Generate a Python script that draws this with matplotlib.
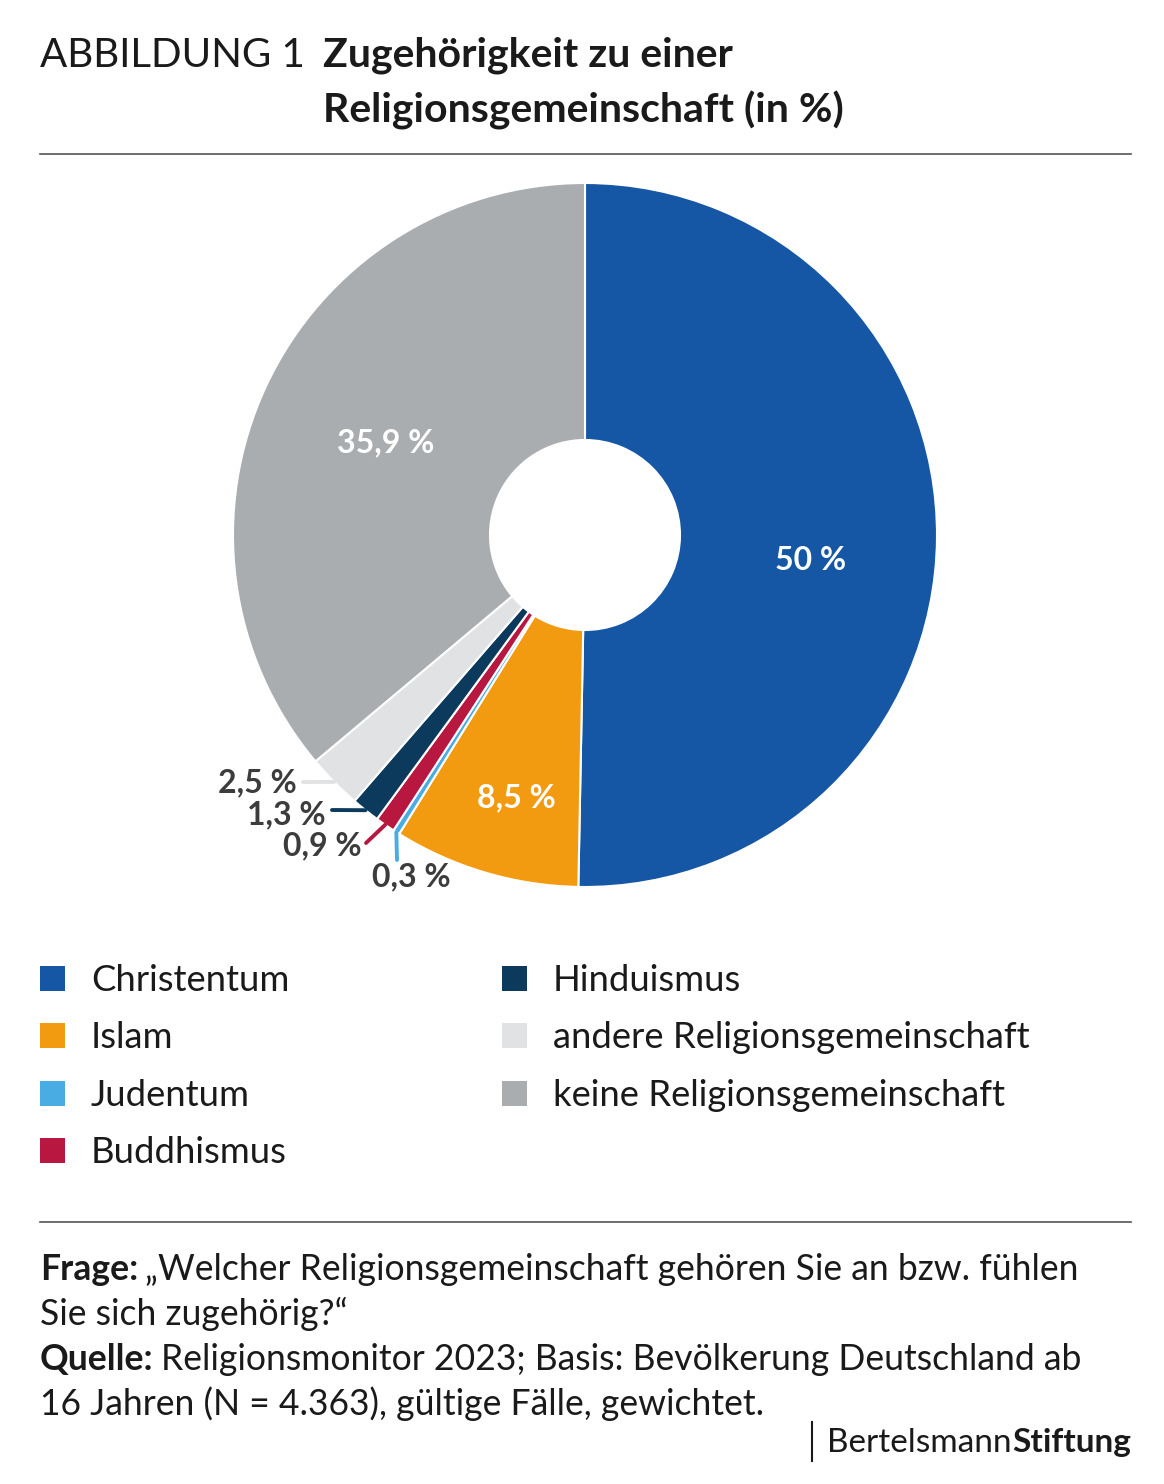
import numpy as np
import matplotlib.pyplot as plt
from matplotlib.patches import Rectangle
from matplotlib.lines import Line2D

# Daten
kategorien = ['Christentum', 'Islam', 'Judentum', 'Buddhismus', 'Hinduismus',
              'andere Religionsgemeinschaft', 'keine Religionsgemeinschaft']
werte = [50, 8.5, 0.3, 0.9, 1.3, 2.5, 35.9]
werte_txt = ['50', '8,5', '0,3', '0,9', '1,3', '2,5', '35,9']
farben = ['#1557a5', '#f29b11', '#49ade3', '#b8173f', '#0c3a5c', '#e1e2e4', '#aaadb0']

plt.rcParams['font.family'] = ['Lato', 'DejaVu Sans']

W, H = 1164, 1484
fig = plt.figure(figsize=(W / 100, H / 100), dpi=100)
dunkel = '#1a1a1a'
grau_txt = '#3c3c3c'


def px(x, y):
    # Pixel (oben-links) -> Figurenanteil
    return x / W, 1 - y / H


def text(x, y, s, **kw):
    return fig.text(*px(x, y), s, **kw)


# Titel
text(40, 67, 'ABBILDUNG 1', fontsize=29, color=dunkel, va='baseline')
text(323, 67, 'Zugehörigkeit zu einer', fontsize=29.5, fontweight='bold', color=dunkel, va='baseline')
text(323, 122, 'Religionsgemeinschaft (in %)', fontsize=29.5, fontweight='bold', color=dunkel, va='baseline')

# Trennlinien
for yy in (154, 1222):
    fig.add_artist(Line2D([40 / W, 1131 / W], [1 - yy / H, 1 - yy / H], color='#555555', lw=1.2))

# Kreisdiagramm
cx, cy, R, r_in = 585, 535, 352, 95
ax = fig.add_axes([(cx - R) / W, 1 - (cy + R) / H, 2 * R / W, 2 * R / H])
wedges, _ = ax.pie(werte, colors=farben, startangle=90, counterclock=False, radius=1,
                   wedgeprops=dict(width=1 - r_in / R, edgecolor='white', linewidth=1.5))
ax.set_xlim(-1, 1)
ax.set_ylim(-1, 1)
ax.axis('off')

# Beschriftungen im Ring (weiß)
innen = {0: (811, 560), 1: (516, 798), 6: (386, 443)}
for i, (x, y) in innen.items():
    text(x, y, werte_txt[i] + ' %', fontsize=23, fontweight='bold', color='white',
         ha='center', va='center')

# Kleine Segmente mit Führungslinien
aussen = {5: ((303, 782), (297, 783), 'right'),
          4: ((332, 810), (326, 815), 'right'),
          3: ((366, 843), (362, 846), 'right'),
          2: ((397, 860), (411, 877), 'center')}
for i, ((lx, ly), (tx, ty), ha) in aussen.items():
    w = wedges[i]
    mid = np.deg2rad((w.theta1 + w.theta2) / 2)
    ex, ey = np.cos(mid), np.sin(mid)
    ax.annotate('', xy=(ex, ey), xycoords='data',
                xytext=(lx, H - ly), textcoords='figure pixels',
                arrowprops=dict(arrowstyle='-', color=farben[i], lw=2.8,
                                shrinkA=0, shrinkB=0))
    text(tx, ty, werte_txt[i] + ' %', fontsize=23, fontweight='bold', color=grau_txt,
         ha=ha, va='center')

# Legende
spalten_x = [40, 502]
zeilen_y = [978, 1035, 1093, 1150]
for i, (kat, f) in enumerate(zip(kategorien, farben)):
    sp, ze = (0, i) if i < 4 else (1, i - 4)
    x0, y0 = spalten_x[sp], zeilen_y[ze]
    fig.add_artist(Rectangle(px(x0, y0 + 12.5), 25 / W, 25 / H, facecolor=f,
                             edgecolor='none', transform=fig.transFigure))
    text(x0 + 51, y0 + 13, kat, fontsize=26.2, color=dunkel, va='baseline')

# Fußnote
fig.canvas.draw()
renderer = fig.canvas.get_renderer()
fs_fuss = 25.6


def gemischt(x, y, fett, normal):
    t = text(x, y, fett, fontsize=fs_fuss, fontweight='bold', color=dunkel, va='baseline')
    bb = t.get_window_extent(renderer)
    text(bb.x1 + 7, y, normal, fontsize=fs_fuss, color=dunkel, va='baseline')


gemischt(40, 1280, 'Frage:', '„Welcher Religionsgemeinschaft gehören Sie an bzw. fühlen')
text(40, 1325, 'Sie sich zugehörig?“', fontsize=fs_fuss, color=dunkel, va='baseline')
gemischt(40, 1370, 'Quelle:', 'Religionsmonitor 2023; Basis: Bevölkerung Deutschland ab')
text(40, 1415, '16 Jahren (N = 4.363), gültige Fälle, gewichtet.', fontsize=fs_fuss, color=dunkel, va='baseline')

# Logo
t2 = text(1131, 1452, 'Stiftung', fontsize=24, fontweight='bold', color=dunkel,
          ha='right', va='baseline')
bb2 = t2.get_window_extent(renderer)
t1 = fig.text(bb2.x0 / W - 1 / W, 1 - 1452 / H, 'Bertelsmann', fontsize=24, color=dunkel,
              ha='right', va='baseline')
fig.add_artist(Line2D([812 / W, 812 / W], [1 - 1422 / H, 1 - 1461 / H], color=dunkel, lw=1.5))

fig.savefig('out.png', dpi=100, facecolor='white')
